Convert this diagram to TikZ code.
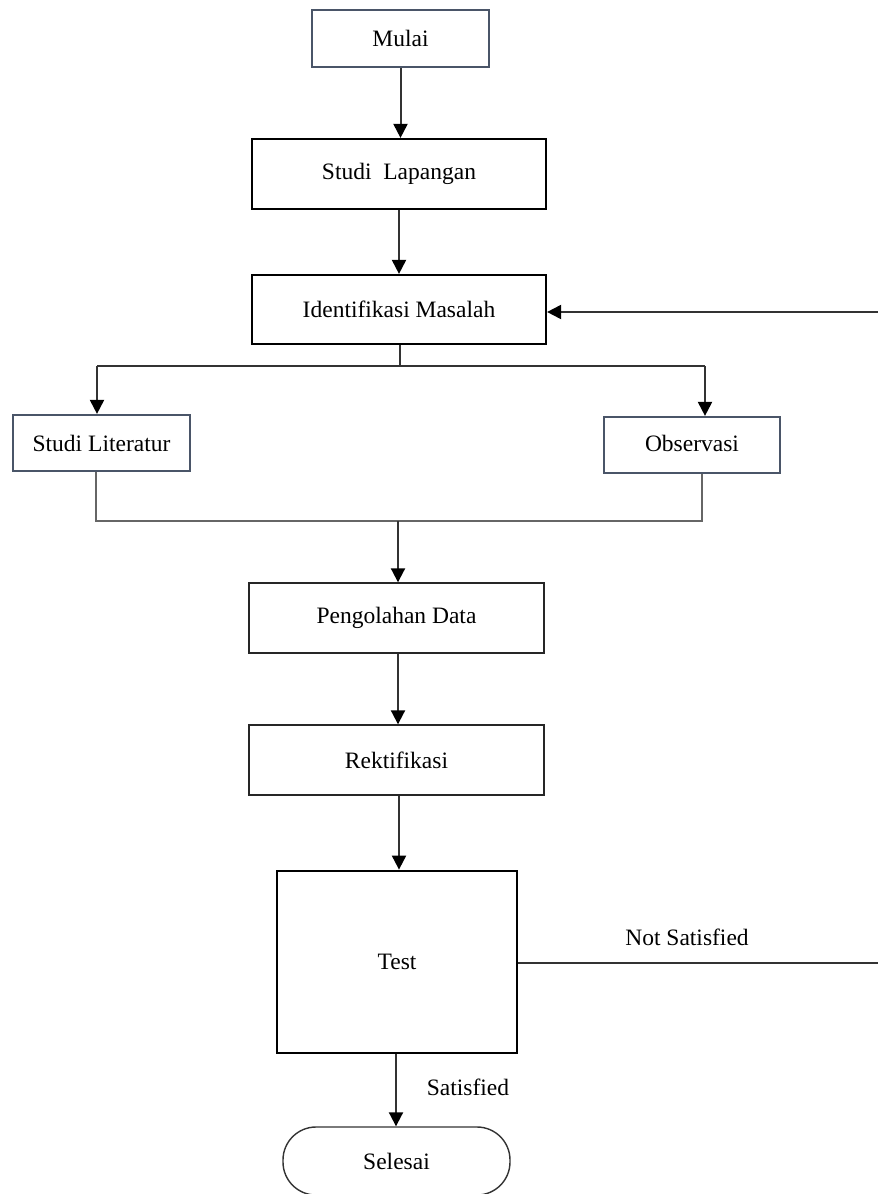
\documentclass[tikz,border=0pt]{standalone}
\usepackage{fontspec}
\setmainfont{Liberation Serif}
\usetikzlibrary{arrows.meta}
\definecolor{slate}{HTML}{4A5568}
\definecolor{lineg}{HTML}{333333}
\begin{document}
\begin{tikzpicture}[x=1pt,y=-1pt,
  font=\fontsize{23.5}{28}\selectfont,
  box/.style={draw=black, line width=2.2pt, rectangle, inner sep=0pt, fill=white},
  thinbox/.style={draw=black!85, line width=1.4pt, rectangle, inner sep=0pt},
  slatebox/.style={draw=slate, line width=2.2pt, rectangle, inner sep=0pt},
  conn/.style={draw=lineg, line width=2pt},
  arr/.style={conn, -{Triangle[width=14pt,length=14pt,color=black]}},
  thinconn/.style={draw=black!60, line width=1.3pt}]
\useasboundingbox (0,0) rectangle (878,1194);
% nodes
\node[slatebox, minimum width=177pt, minimum height=57pt] (mulai) at (400.5,38.5) {Mulai};
\node[box, minimum width=294pt, minimum height=70pt] (studi) at (399,174) {Studi\ \ Lapangan};
\node[box, minimum width=294pt, minimum height=69pt] (ident) at (399,309.5) {Identifikasi Masalah};
\node[slatebox, minimum width=177pt, minimum height=56pt] (lit) at (101.5,443) {Studi Literatur};
\node[slatebox, minimum width=176pt, minimum height=56pt] (obs) at (692,445) {\raisebox{3pt}{Observasi}};
\node[thinbox, minimum width=295pt, minimum height=70pt] (olah) at (396.5,618) {Pengolahan Data};
\node[thinbox, minimum width=295pt, minimum height=70pt] (rekt) at (396.5,760) {Rektifikasi};
\node[box, line width=2.8pt, minimum width=240pt, minimum height=182pt] (test) at (397,962) {Test};
\node[draw=black!80, line width=1.4pt, rectangle, rounded corners=33pt, minimum width=227pt, minimum height=68pt, inner sep=0pt] (selesai) at (396.5,1161) {Selesai};
% labels
\node (notsat) at (687,937) {Not Satisfied};
\node (sat) at (468,1087) {Satisfied};
% junction coordinates
\coordinate (split) at (400,366);
\coordinate (splitL) at (97,366);
\coordinate (splitR) at (705,366);
\coordinate (mergeL) at (96,521);
\coordinate (mergeR) at (702,521);
\coordinate (merge) at (398,521);
\coordinate (fbOut) at (878,963);
\coordinate (fbIn) at (878,312);
% connectors
\draw[arr] (mulai.south) -- (mulai.south |- studi.north);
\draw[arr] (studi.south) -- (studi.south |- ident.north);
\draw[conn] (ident.south -| split) -- (split);
\draw[conn] (splitL) -- (splitR);
\draw[arr] (splitL) -- (splitL |- lit.north);
\draw[arr] (splitR) -- (splitR |- obs.north);
\draw[thinconn] (lit.south -| mergeL) -- (mergeL) -- (mergeR) -- (obs.south -| mergeR);
\draw[arr] (merge) -- (merge |- olah.north);
\draw[arr] (olah.south -| merge) -- (rekt.north -| merge);
\draw[arr] (rekt.south -| 399,0) -- (test.north -| 399,0);
\draw[conn] (test.east |- fbOut) -- (fbOut);
\draw[arr] (fbIn) -- (ident.east |- fbIn);
\draw[arr] (test.south -| 396,0) -- (selesai.north -| 396,0);
\end{tikzpicture}
\end{document}
